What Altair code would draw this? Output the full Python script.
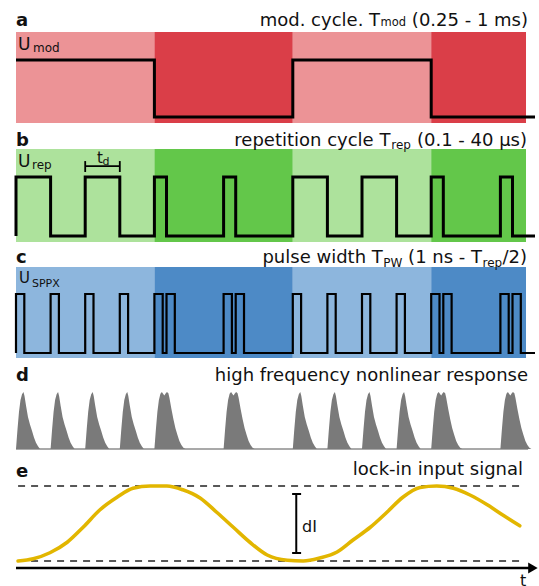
import altair as alt
import pandas as pd

# Time is measured in units of the repetition cycle T_rep (T_mod = 4 T_rep).
T_END = 7.5      # end of the drawn signal traces
T_SHADE = 7.37   # end of the shaded modulation half-cycles

# (a) modulation: start of each half-cycle and the U_mod level during it
mod_start = [0, 2, 4, 6]
mod_level = [1, 0, 1, 0]

# (b) repetition pulses: start time and width
rep_start = [0, 1, 2, 3, 4, 5, 6, 7]
rep_width = [0.5, 0.5, 0.175, 0.175, 0.5, 0.5, 0.175, 0.175]

# (c) SPPX pulses, one at every edge of U_rep
sppx_start = [0, 0.5, 1, 1.5, 2, 2.175, 3, 3.175, 4, 4.5, 5, 5.5, 6, 6.175, 7, 7.175]
sppx_width = 0.12

# (d) nonlinear response: shape after an isolated pulse and after a close pulse pair
single_onsets = [0, 0.5, 1, 1.5, 4, 4.5, 5, 5.5]
pair_onsets = [2, 3, 6, 7]
single_dt = [0, 0.022, 0.043, 0.065, 0.087, 0.108, 0.123, 0.145, 0.173, 0.202,
             0.231, 0.26, 0.289, 0.318, 0.347]
single_amp = [0, 0.35, 0.65, 0.86, 0.96, 1.0, 0.93, 0.76, 0.56, 0.43,
              0.32, 0.2, 0.11, 0.05, 0]
pair_dt = [0, 0.022, 0.043, 0.065, 0.087, 0.108, 0.13, 0.145, 0.159, 0.181,
           0.202, 0.217, 0.246, 0.275, 0.303, 0.332, 0.361, 0.39, 0.419, 0.448]
pair_amp = [0, 0.35, 0.65, 0.86, 0.97, 1.0, 0.96, 0.94, 0.97, 1.0,
            0.98, 0.9, 0.7, 0.52, 0.37, 0.25, 0.14, 0.07, 0.02, 0]

# (e) lock-in input signal, normalised between its minimum (0) and maximum (1)
lockin_t = [0.03, 0.25, 0.49, 0.74, 0.97, 1.21, 1.46, 1.69, 1.94, 2.18, 2.41,
            2.66, 2.9, 3.14, 3.38, 3.63, 3.92, 4.15, 4.39, 4.64, 4.87, 5.12,
            5.36, 5.59, 5.84, 6.08, 6.32, 6.56, 6.81, 7.04, 7.28]
lockin_amp = [0, 0.03, 0.11, 0.25, 0.45, 0.68, 0.85, 0.97, 1.0, 1.0, 0.95,
              0.84, 0.65, 0.45, 0.25, 0.08, 0.01, 0, 0.04, 0.12, 0.28, 0.45,
              0.65, 0.85, 0.98, 1.0, 0.97, 0.88, 0.75, 0.61, 0.47]

# ---------------------------------------------------------------- layout
FONT = "DejaVu Sans"
XS = alt.Scale(domain=[0, T_END], range=[16, 535], nice=False, zero=False)
ONE = pd.DataFrame({"k": [0]})

PANELS = {
    "a": dict(top=32, bottom=123, low=117, high=60, light="#EC9396", dark="#DA3E48"),
    "b": dict(top=149, bottom=242, low=236, high=177, light="#ADE29C", dark="#63C74A"),
    "c": dict(top=267, bottom=358, low=353, high=294, light="#8DB6DD", dark="#4D8AC6"),
}
D_BASE, D_PEAK = 449, 392
E_LO, E_HI, E_AXIS = 561, 486, 568

# DejaVu Sans advance widths (em fraction), used to chain title pieces with sub-scripts
ADV = {
    " ": 0.318, "(": 0.390, ")": 0.390, "-": 0.361, ".": 0.318, "/": 0.337,
    "0": 0.636, "1": 0.636, "2": 0.636, "4": 0.636, "5": 0.636,
    "P": 0.603, "T": 0.611, "W": 0.989,
    "c": 0.550, "d": 0.635, "e": 0.615, "h": 0.634, "i": 0.278, "l": 0.278,
    "m": 0.974, "n": 0.634, "o": 0.612, "p": 0.635, "r": 0.411, "s": 0.521,
    "t": 0.392, "u": 0.634, "w": 0.818, "y": 0.592, "µ": 0.636,
}


def text_width(s, size):
    return sum(ADV.get(ch, 0.6) for ch in s) * size


def yscale(lo_px, hi_px):
    return alt.Scale(domain=[0, 1], range=[lo_px, hi_px], nice=False, zero=False)


def xq(field):
    return alt.X(f"{field}:Q", scale=XS, axis=None)


def label(txt, x, y, size, bold=False, align="left", color="#111111"):
    return alt.Chart(ONE).mark_text(
        text=txt, font=FONT, fontSize=size,
        fontWeight="bold" if bold else "normal",
        align=align, baseline="alphabetic", color=color,
    ).encode(x=alt.value(x), y=alt.value(y))


def title_row(pieces, right, base):
    """pieces: (text, font size, baseline shift, leading gap in px); right-aligned as a whole."""
    total = sum(text_width(t, s) + g for t, s, _, g in pieces)
    x = right - total
    out = []
    for t, s, dy, g in pieces:
        x += g
        out.append(label(t, x, base + dy, s))
        x += text_width(t, s)
    return out


def shading(p):
    ends = mod_start[1:] + [T_SHADE]
    df = pd.DataFrame({
        "t0": mod_start, "t1": ends,
        "fill": [p["light"] if lev == 1 else p["dark"] for lev in mod_level],
    })
    return alt.Chart(df).mark_rect().encode(
        x=xq("t0"), x2="t1",
        y=alt.value(p["top"]), y2=alt.value(p["bottom"]),
        color=alt.Color("fill:N", scale=None),
    )


def trace(points, p, width):
    df = pd.DataFrame(points, columns=["t", "u"])
    df["i"] = range(len(df))
    return alt.Chart(df).mark_line(
        color="black", strokeWidth=width, strokeJoin="miter", strokeCap="butt"
    ).encode(
        x=xq("t"),
        y=alt.Y("u:Q", scale=yscale(p["low"], p["high"]), axis=None),
        order=alt.Order("i:Q"),
    )


def pulse_points(starts, widths):
    pts = [(0, 0)]
    for s, w in zip(starts, widths):
        pts += [(s, 0), (s, 1), (s + w, 1), (s + w, 0)]
    pts.append((T_END, 0))
    return pts


SP = text_width(" ", 18)
layers = []

# ---- (a) modulation cycle
pa = PANELS["a"]
mod_pts = []
for s, e, lev in zip(mod_start, mod_start[1:] + [T_END], mod_level):
    mod_pts += [(s, lev), (e, lev)]
layers += [
    shading(pa),
    trace(mod_pts, pa, 3),
    label("a", 16, 26, 18, bold=True),
    label("U", 18, 50, 17),
    label("mod", 33, 52, 12),
]
layers += title_row([("mod. cycle. T", 18, 0, 0), ("mod", 11.5, 0, 0.5),
                     ("(0.25 - 1 ms)", 18, 0, SP)], 528, 26)

# ---- (b) repetition cycle
pb = PANELS["b"]
yb = yscale(pb["low"], pb["high"])
td = pd.DataFrame({"t0": [1.0], "t1": [1.5], "lvl": [1.186], "c0": [1.085], "c1": [1.27]})
layers += [
    shading(pb),
    trace(pulse_points(rep_start, rep_width), pb, 3),
    alt.Chart(td).mark_rule(color="black", strokeWidth=1.8).encode(
        x=xq("t0"), x2="t1", y=alt.Y("lvl:Q", scale=yb, axis=None)),
    alt.Chart(td).mark_rule(color="black", strokeWidth=1.8).encode(
        x=xq("t0"), y=alt.Y("c0:Q", scale=yb, axis=None), y2="c1"),
    alt.Chart(td).mark_rule(color="black", strokeWidth=1.8).encode(
        x=xq("t1"), y=alt.Y("c0:Q", scale=yb, axis=None), y2="c1"),
    label("b", 16, 146, 18, bold=True),
    label("U", 18, 167, 17),
    label("rep", 32, 169, 12),
    label("t", 97, 163, 15),
    label("d", 102.5, 165, 11),
]
layers += title_row([("repetition cycle T", 18, 0, 0), ("rep", 12, 3, 0.5),
                     ("(0.1 - 40 µs)", 18, 0, SP)], 527, 146)

# ---- (c) pulse width
pc = PANELS["c"]
layers += [
    shading(pc),
    trace(pulse_points(sppx_start, [sppx_width] * len(sppx_start)), pc, 2.2),
    label("c", 16, 263, 18, bold=True),
    label("U", 19, 283, 15),
    label("SPPX", 32, 287, 11),
]
layers += title_row([("pulse width T", 18, 0, 0), ("PW", 12, 4, 0.5),
                     ("(1 ns - T", 18, 0, SP), ("rep", 12, 4, 0.5),
                     ("/2)", 18, 0, 0)], 527, 263)

# ---- (d) high frequency nonlinear response
rows = []
for k, s in enumerate(single_onsets):
    for dt, a in zip(single_dt, single_amp):
        rows.append({"t": s + dt, "r": a, "peak": f"s{k}"})
for k, s in enumerate(pair_onsets):
    for dt, a in zip(pair_dt, pair_amp):
        rows.append({"t": s + dt, "r": a, "peak": f"p{k}"})
yd = yscale(D_BASE, D_PEAK)
layers += [
    alt.Chart(pd.DataFrame({"t0": [0.0], "t1": [7.4]})).mark_rule(
        color="#8C8C8C", strokeWidth=1.5).encode(
        x=xq("t0"), x2="t1", y=alt.value(D_BASE)),
    alt.Chart(pd.DataFrame(rows)).mark_area(color="#7A7A7A", opacity=1).encode(
        x=xq("t"), y=alt.Y("r:Q", scale=yd, axis=None), detail="peak:N"),
    label("d", 16, 381, 18, bold=True),
    label("high frequency nonlinear response", 528, 381, 18, align="right"),
]

# ---- (e) lock-in input signal
ye = yscale(E_LO, E_HI)
lock = pd.DataFrame({"t": lockin_t, "amp": lockin_amp})
lock["i"] = range(len(lock))
bounds = pd.DataFrame({"t0": [0.03, 0.03], "t1": [7.31, 7.31], "lvl": [0, 1]})
di = pd.DataFrame({"t": [4.05], "ta": [3.99], "tb": [4.12], "lo": [0.107], "hi": [0.893]})
layers += [
    alt.Chart(bounds).mark_rule(color="#222222", strokeWidth=1.5, strokeDash=[7, 6]).encode(
        x=xq("t0"), x2="t1", y=alt.Y("lvl:Q", scale=ye, axis=None)),
    alt.Chart(pd.DataFrame({"t0": [0.0], "t1": [7.43]})).mark_rule(
        color="black", strokeWidth=2.6).encode(
        x=xq("t0"), x2="t1", y=alt.value(E_AXIS)),
    alt.Chart(pd.DataFrame({"t": [7.47]})).mark_point(
        shape="triangle-right", filled=True, size=121, color="black", opacity=1).encode(
        x=xq("t"), y=alt.value(E_AXIS)),
    alt.Chart(lock).mark_line(
        color="#E2B600", strokeWidth=3.6, strokeCap="round", interpolate="monotone").encode(
        x=xq("t"), y=alt.Y("amp:Q", scale=ye, axis=None), order=alt.Order("i:Q")),
    alt.Chart(di).mark_rule(color="black", strokeWidth=2).encode(
        x=xq("t"), y=alt.Y("lo:Q", scale=ye, axis=None), y2="hi"),
    alt.Chart(di).mark_rule(color="black", strokeWidth=2).encode(
        x=xq("ta"), x2="tb", y=alt.Y("lo:Q", scale=ye, axis=None)),
    alt.Chart(di).mark_rule(color="black", strokeWidth=2).encode(
        x=xq("ta"), x2="tb", y=alt.Y("hi:Q", scale=ye, axis=None)),
    label("e", 16, 477, 18, bold=True),
    label("lock-in input signal", 523, 475, 18, align="right"),
    label("dI", 302, 532, 16),
    label("t", 520, 586, 16),
]

chart = alt.layer(*layers).resolve_scale(y="independent").properties(
    width=539, height=586, padding=0,
    autosize=alt.AutoSizeParams(type="none"),
).configure_view(stroke=None)

chart.save("out.html", embed_options={"renderer": "svg", "actions": False})
